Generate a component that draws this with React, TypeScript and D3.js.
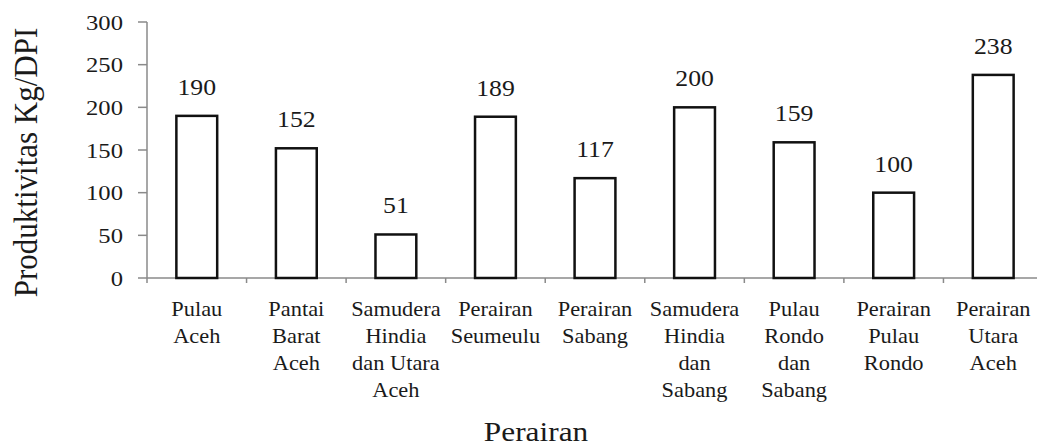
import * as React from "react";
import * as d3 from "d3";

const categories: string[][] = [
  ["Pulau", "Aceh"],
  ["Pantai", "Barat", "Aceh"],
  ["Samudera", "Hindia", "dan Utara", "Aceh"],
  ["Perairan", "Seumeulu"],
  ["Perairan", "Sabang"],
  ["Samudera", "Hindia", "dan", "Sabang"],
  ["Pulau", "Rondo", "dan", "Sabang"],
  ["Perairan", "Pulau", "Rondo"],
  ["Perairan", "Utara", "Aceh"],
];
const values: number[] = [190, 152, 51, 189, 117, 200, 159, 100, 238];
const yTicks: number[] = [0, 50, 100, 150, 200, 250, 300];
const yTitle = "Produktivitas Kg/DPI";
const xTitle = "Perairan";

const W = 1037;
const H = 448;
const left = 147;
const right = 1043;
const top = 22;
const bottom = 278;
const font = "Liberation Serif, serif";
const axisColor = "#8a8a8a";
const ink = "#1a1a1a";

// the reference is slightly stretched horizontally
const sx = 1.12;

const Stretch = ({ x, y, children }: { x: number; y: number; children: React.ReactNode }) => (
  <g transform={`translate(${x},${y}) scale(${sx},1)`}>{children}</g>
);

const App = () => {
  const keys = categories.map((c, i) => String(i));
  const x = d3
    .scaleBand()
    .domain(keys)
    .range([left, right])
    .paddingInner(0.59)
    .paddingOuter(0.295);
  const y = d3.scaleLinear().domain([0, 300]).range([bottom, top]);
  const step = x.step();
  const cx = (i: number) => x(String(i))! + x.bandwidth() / 2;

  return (
    <svg
      width={W}
      height={H}
      style={{ position: "absolute", left: 0, top: 0, background: "#fff" }}
    >
      {/* y axis */}
      <line x1={left} x2={left} y1={y(300)} y2={bottom} stroke={axisColor} strokeWidth={1.5} />
      {yTicks.map((t) => (
        <g key={t}>
          <line x1={left - 9} x2={left} y1={y(t)} y2={y(t)} stroke={axisColor} strokeWidth={1.5} />
          <Stretch x={left - 24} y={y(t)}>
            <text
              textAnchor="end"
              dy="0.35em"
              style={{ fontFamily: font, fontSize: 22 }}
              fill={ink}
            >
              {t}
            </text>
          </Stretch>
        </g>
      ))}

      {/* x axis */}
      <line x1={left} x2={right} y1={bottom} y2={bottom} stroke={axisColor} strokeWidth={1.5} />
      {keys.map((k, i) => (
        <line
          key={"t" + k}
          x1={left + i * step}
          x2={left + i * step}
          y1={bottom}
          y2={bottom + 5}
          stroke={axisColor}
          strokeWidth={1.5}
        />
      ))}

      {/* bars */}
      {values.map((v, i) => (
        <g key={"b" + i}>
          <rect
            x={x(String(i))!}
            y={y(v)}
            width={x.bandwidth()}
            height={bottom - y(v)}
            fill="#fff"
            stroke="#111"
            strokeWidth={2.5}
          />
          <Stretch x={cx(i)} y={y(v) - 21}>
            <text textAnchor="middle" style={{ fontFamily: font, fontSize: 23 }} fill={ink}>
              {v}
            </text>
          </Stretch>
        </g>
      ))}

      {/* category labels */}
      {categories.map((lines, i) => (
        <Stretch key={"c" + i} x={cx(i)} y={bottom + 38}>
          <text textAnchor="middle" style={{ fontFamily: font, fontSize: 20 }} fill={ink}>
            {lines.map((l, j) => (
              <tspan key={j} x={0} dy={j === 0 ? 0 : 27}>
                {l}
              </tspan>
            ))}
          </text>
        </Stretch>
      ))}

      {/* titles */}
      <Stretch x={536} y={441}>
        <text textAnchor="middle" style={{ fontFamily: font, fontSize: 28 }} fill={ink}>
          {xTitle}
        </text>
      </Stretch>
      <g transform={`translate(37, ${(28 + 297) / 2}) scale(${sx},1) rotate(-90)`}>
        <text textAnchor="middle" style={{ fontFamily: font, fontSize: 31 }} fill={ink}>
          {yTitle}
        </text>
      </g>
    </svg>
  );
};

export default App;
